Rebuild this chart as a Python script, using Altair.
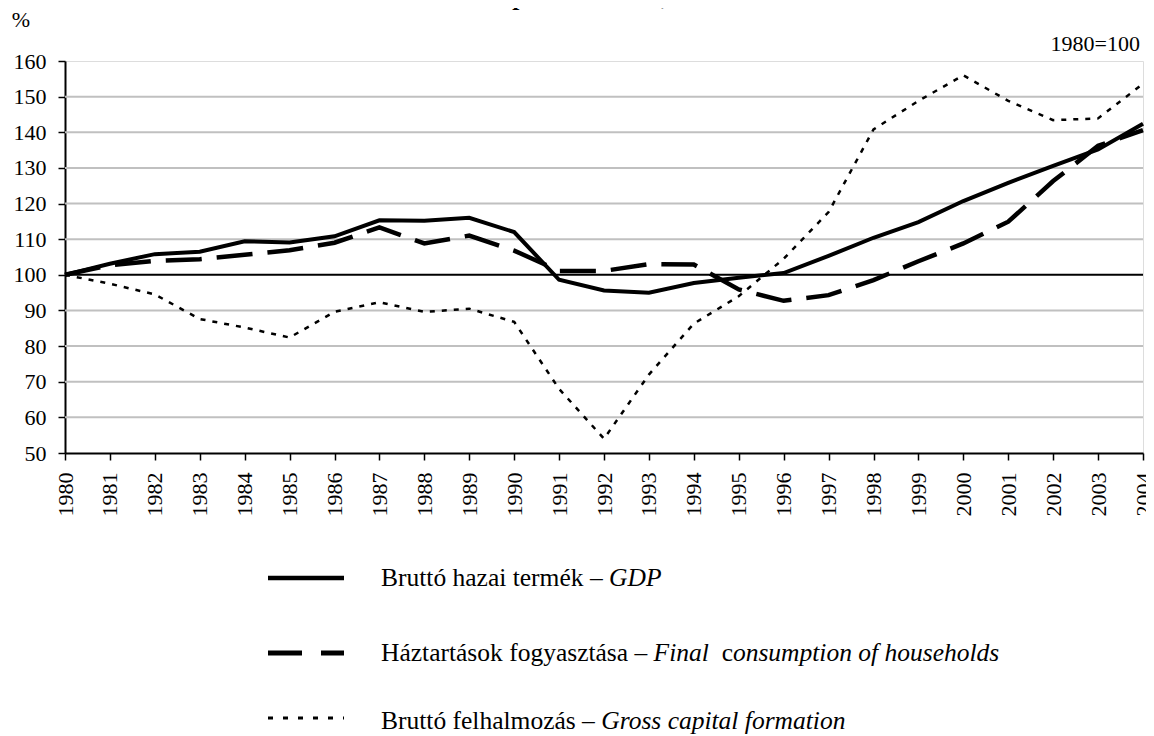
import altair as alt
import pandas as pd

years = list(range(1980, 2005))
gdp = [100, 103.1, 105.8, 106.5, 109.4, 109.1, 110.8, 115.3, 115.2, 116.0, 112.0,
       98.6, 95.6, 95.0, 97.7, 99.2, 100.5, 105.3, 110.4, 114.8, 120.7, 125.8,
       130.6, 135.2, 142.4]
consumption = [100, 102.7, 103.9, 104.4, 105.6, 106.9, 109.0, 113.3, 108.8, 111.0,
               106.8, 101.1, 101.1, 103.0, 102.9, 95.9, 92.7, 94.3, 98.5, 103.8,
               108.8, 114.9, 126.3, 136.2, 140.6]
capital = [100, 97.5, 94.5, 87.6, 85.2, 82.4, 89.6, 92.3, 89.6, 90.5, 86.8, 68.0,
           54.0, 72.0, 86.3, 94.0, 104.5, 117.6, 140.8, 148.8, 156.0, 148.8, 143.4,
           143.9, 153.6]
y_ticks = [50, 60, 70, 80, 90, 100, 110, 120, 130, 140, 150, 160]
grid_values = [60, 70, 80, 90, 110, 120, 130, 140, 150]
base_value = [100]

title_text = "expenditure side, 1980–2004"
unit_text = "%"
base_text = "1980=100"
legend_roman = ["Bruttó hazai termék – ", "Háztartások fogyasztása – ", "Bruttó felhalmozás – "]

W, H = 1078, 392
FONT = "Liberation Serif"
LEG_SIZE = 25.5
TICK_SIZE = 22

df = pd.DataFrame({"year": years, "gdp": gdp, "cons": consumption, "gcf": capital})

xscale = alt.Scale(domain=[1980, 2004], nice=False, zero=False)
yscale = alt.Scale(domain=[50, 160], nice=False, zero=False)
xaxis = alt.Axis(values=years, format="d", labelAngle=270, labelFont=FONT,
                 labelFontSize=TICK_SIZE, labelColor="black", tickColor="black",
                 tickSize=7, tickWidth=1.5, domainColor="black", domainWidth=2,
                 grid=False, title=None, labelPadding=12, labelOverlap=False)
yaxis = alt.Axis(values=y_ticks, labelFont=FONT, labelFontSize=TICK_SIZE,
                 labelColor="black", tickColor="black", tickSize=7, tickWidth=1.5,
                 domainColor="black", domainWidth=2, grid=False, title=None,
                 labelPadding=12, labelOverlap=False)


def series(field, width, dash=None):
    kw = dict(color="black", strokeWidth=width, strokeJoin="miter", strokeCap="butt")
    if dash:
        kw["strokeDash"] = dash
    return alt.Chart(df).mark_line(**kw).encode(
        x=alt.X("year:Q", scale=xscale, axis=xaxis),
        y=alt.Y(f"{field}:Q", scale=yscale, axis=yaxis),
    )


grid = alt.Chart(pd.DataFrame({"v": grid_values})).mark_rule(
    color="#c0c0c0", strokeWidth=2).encode(y=alt.Y("v:Q", scale=yscale, axis=yaxis))
base = alt.Chart(pd.DataFrame({"v": base_value})).mark_rule(
    color="black", strokeWidth=2).encode(y=alt.Y("v:Q", scale=yscale, axis=yaxis))

# Times metrics for placing italic parts after roman parts
ROMAN = {" ": 250, "–": 500, "B": 667, "H": 722, "r": 333, "u": 500, "t": 278, "ó": 500,
         "h": 500, "a": 444, "z": 444, "i": 278, "e": 444, "m": 778, "é": 444, "k": 500,
         "á": 444, "s": 389, "o": 500, "f": 333, "g": 500, "y": 500, "l": 278, "c": 444}
ITALIC = {" ": 250, "G": 722, "D": 722, "P": 611, "F": 611, "i": 278, "n": 500, "a": 500,
          "l": 278, "c": 444, "o": 500, "s": 389, "u": 500, "m": 722, "p": 500, "t": 278,
          "f": 278, "h": 500, "e": 444, "d": 500, "r": 389}


def width(s, table, size):
    return sum(table.get(ch, 500) for ch in s) * size / 1000.0


def text(s, x, y, italic=False, bold=False, align="left", baseline="middle", size=LEG_SIZE):
    return alt.Chart(pd.DataFrame({"t": [s]})).mark_text(
        align=align, baseline=baseline, font=FONT, fontSize=size,
        fontStyle="italic" if italic else "normal",
        fontWeight="bold" if bold else "normal", color="black",
    ).encode(x=alt.value(x), y=alt.value(y), text="t:N")


def legend_rule(y, w, dash=None):
    kw = dict(color="black", strokeWidth=w, strokeCap="butt")
    if dash:
        kw["strokeDash"] = dash
    return alt.Chart(pd.DataFrame({"t": [0]})).mark_rule(**kw).encode(
        x=alt.value(203), x2=alt.value(279), y=alt.value(y))


LX = 316
LY = [517, 592, 657]
layers = [grid, base,
          series("gcf", 2.5, [5, 7]),
          series("cons", 4.5, [36, 15]),
          series("gdp", 4)]

# legend entries
layers.append(legend_rule(LY[0], 4.5))
layers.append(legend_rule(LY[1], 5, [34, 19]))
layers.append(legend_rule(LY[2], 3, [5, 10]))

x0 = LX
layers.append(text(legend_roman[0], x0, LY[0]))
layers.append(text("GDP", x0 + width(legend_roman[0], ROMAN, LEG_SIZE), LY[0], italic=True))

x1 = x0 + width(legend_roman[1], ROMAN, LEG_SIZE)
layers.append(text(legend_roman[1], x0, LY[1]))
layers.append(text("Final ", x1, LY[1], italic=True))
x1b = x1 + width("Final  ", ITALIC, LEG_SIZE)
layers.append(text("c", x1b, LY[1]))
x1c = x1b + width("c", ROMAN, LEG_SIZE)
layers.append(text("onsumption of households", x1c, LY[1], italic=True))

layers.append(text(legend_roman[2], x0, LY[2] + 3))
layers.append(text("Gross capital formation", x0 + width(legend_roman[2], ROMAN, LEG_SIZE),
                   LY[2] + 3, italic=True))

layers.append(text(unit_text, -44, -41, align="center", size=TICK_SIZE))
layers.append(text(base_text, 1075, -17, align="right", size=TICK_SIZE))
layers.append(text(title_text, 575, -56, bold=True, italic=True, align="center",
                   baseline="alphabetic", size=LEG_SIZE))

chart = alt.layer(*layers).properties(
    width=W, height=H,
    padding={"left": 57, "top": 53, "right": 3, "bottom": 283},
    autosize=alt.AutoSizeParams(type="none"),
).configure_view(stroke="black", strokeWidth=1.5).configure(background="white")

chart.save("out.html", embed_options={"renderer": "svg", "actions": False})
